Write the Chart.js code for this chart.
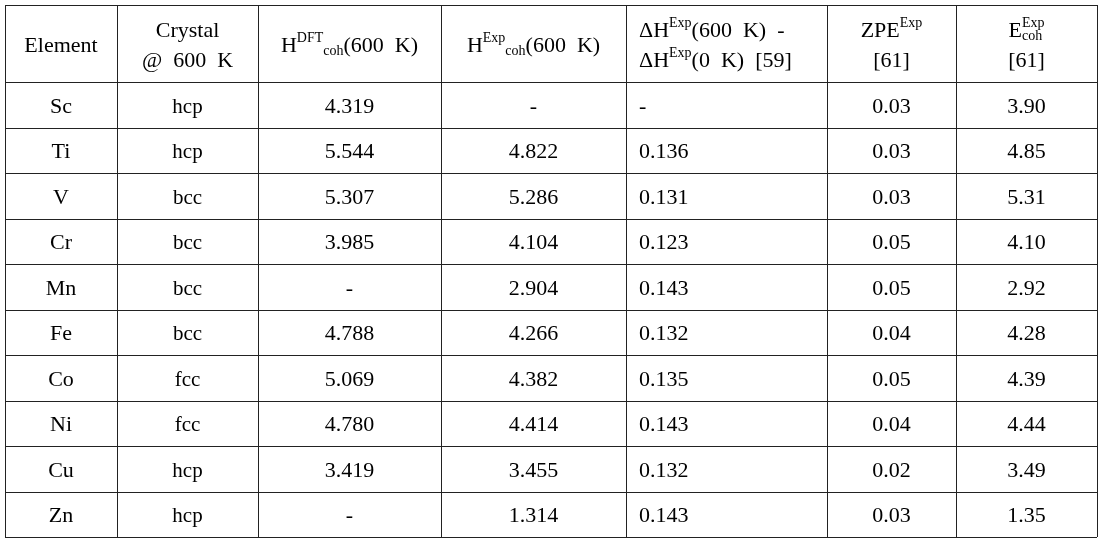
<!DOCTYPE html>
<html><head><meta charset="utf-8">
<script src="https://cdn.jsdelivr.net/npm/chart.js@4"></script>
<style>html,body{margin:0;padding:0;background:#fff}#w{width:1103px;height:542px}</style>
</head><body><div id="w"><canvas id="c"></canvas></div>
<script>
const elements = ['Sc','Ti','V','Cr','Mn','Fe','Co','Ni','Cu','Zn'];
const crystals = ['hcp','hcp','bcc','bcc','bcc','bcc','fcc','fcc','hcp','hcp'];
const hDft = ['4.319','5.544','5.307','3.985','-','4.788','5.069','4.780','3.419','-'];
const hExp = ['-','4.822','5.286','4.104','2.904','4.266','4.382','4.414','3.455','1.314'];
const dH = ['-','0.136','0.131','0.123','0.143','0.132','0.135','0.143','0.132','0.143'];
const zpe = ['0.03','0.03','0.03','0.05','0.05','0.04','0.05','0.04','0.02','0.03'];
const eCoh = ['3.90','4.85','5.31','4.10','2.92','4.28','4.39','4.44','3.49','1.35'];
const colEdges = [0,112,253,436,621,822,951,1092];
const headerH = 77, rowH = 45.5;
// header: each cell = lines; each line = segments [text, mode] mode: n normal, p sup, b sub, s stacked sup+sub
const header = [
 [[['Element','n']]],
 [[['Crystal','n']],[['@  600  K','n']]],
 [[['H','n'],['DFT','p'],['coh','b'],['(600  K)','n']]],
 [[['H','n'],['Exp','p'],['coh','b'],['(600  K)','n']]],
 [[['ΔH','n'],['Exp','p'],['(600  K)  -','n']],[['ΔH','n'],['Exp','p'],['(0  K)  [59]','n']]],
 [[['ZPE','n'],['Exp','p']],[['[61]','n']]],
 [[['E','n'],['Exp|coh','s']],[['[61]','n']]]
];
const F = '"Liberation Serif", "DejaVu Serif", serif';
const tablePlugin = {id:'table', afterDraw(chart){
  const ctx = chart.ctx, a = chart.chartArea, x0 = a.left, y0 = a.top;
  ctx.save();
  ctx.strokeStyle = '#222'; ctx.lineWidth = 1;
  const bottom = y0 + headerH + rowH*elements.length;
  colEdges.forEach(e=>{ctx.beginPath();ctx.moveTo(x0+e+0.5,y0);ctx.lineTo(x0+e+0.5,bottom);ctx.stroke();});
  for(let i=0;i<=elements.length+1;i++){
    const y = i===0?y0:y0+headerH+rowH*(i-1);
    ctx.beginPath();ctx.moveTo(x0,Math.round(y)+0.5);ctx.lineTo(x0+colEdges[7],Math.round(y)+0.5);ctx.stroke();
  }
  ctx.fillStyle = '#000'; ctx.textBaseline = 'alphabetic';
  const big = '22px '+F, small = '14px '+F;
  function segW(s){ if(s[1]==='n'){ctx.font=big;return ctx.measureText(s[0]).width;} ctx.font=small;
    if(s[1]==='s'){const p=s[0].split('|');return Math.max(ctx.measureText(p[0]).width,ctx.measureText(p[1]).width);} return ctx.measureText(s[0]).width;}
  function drawLine(segs,cx,y,align){
    const w = segs.reduce((t,s)=>t+segW(s),0);
    let x = align==='left'?cx:cx-w/2;
    segs.forEach(s=>{const sw=segW(s);
      if(s[1]==='n'){ctx.font=big;ctx.fillText(s[0],x,y);}
      else if(s[1]==='p'){ctx.font=small;ctx.fillText(s[0],x,y-10);}
      else if(s[1]==='b'){ctx.font=small;ctx.fillText(s[0],x,y+3);}
      else {ctx.font=small;const p=s[0].split('|');ctx.fillText(p[0],x,y-10);ctx.fillText(p[1],x,y+3);}
      x+=sw;});
  }
  header.forEach((cell,ci)=>{
    const cx = x0+(colEdges[ci]+colEdges[ci+1])/2;
    const n = cell.length;
    cell.forEach((line,li)=>{
      const y = n===1? y0+headerH/2+8 : y0+headerH/2+8+(li-0.5)*30;
      if(ci===4) drawLine(line,x0+colEdges[4]+13,y,'left'); else drawLine(line,cx,y,'center');
    });
  });
  const cols=[elements,crystals,hDft,hExp,dH,zpe,eCoh];
  elements.forEach((_,r)=>{
    const y = y0+headerH+rowH*r+rowH/2+8;
    cols.forEach((col,ci)=>{
      ctx.font = ci===1?'21px '+F:big;
      if(ci===4){ctx.textAlign='left';ctx.fillText(col[r],x0+colEdges[4]+13,y);}
      else {ctx.textAlign='center';ctx.fillText(col[r],x0+(colEdges[ci]+colEdges[ci+1])/2,y);}
    });
    ctx.textAlign='left';
  });
  ctx.restore();
}};
new Chart(document.getElementById('c'),{
  type:'bar',
  data:{labels:elements,datasets:[]},
  options:{responsive:true,maintainAspectRatio:false,animation:false,
    layout:{padding:{left:5,top:5,right:5,bottom:4}},
    plugins:{legend:{display:false},tooltip:{enabled:false}},
    scales:{x:{display:false},y:{display:false}}},
  plugins:[tablePlugin]
});
</script></body></html>
